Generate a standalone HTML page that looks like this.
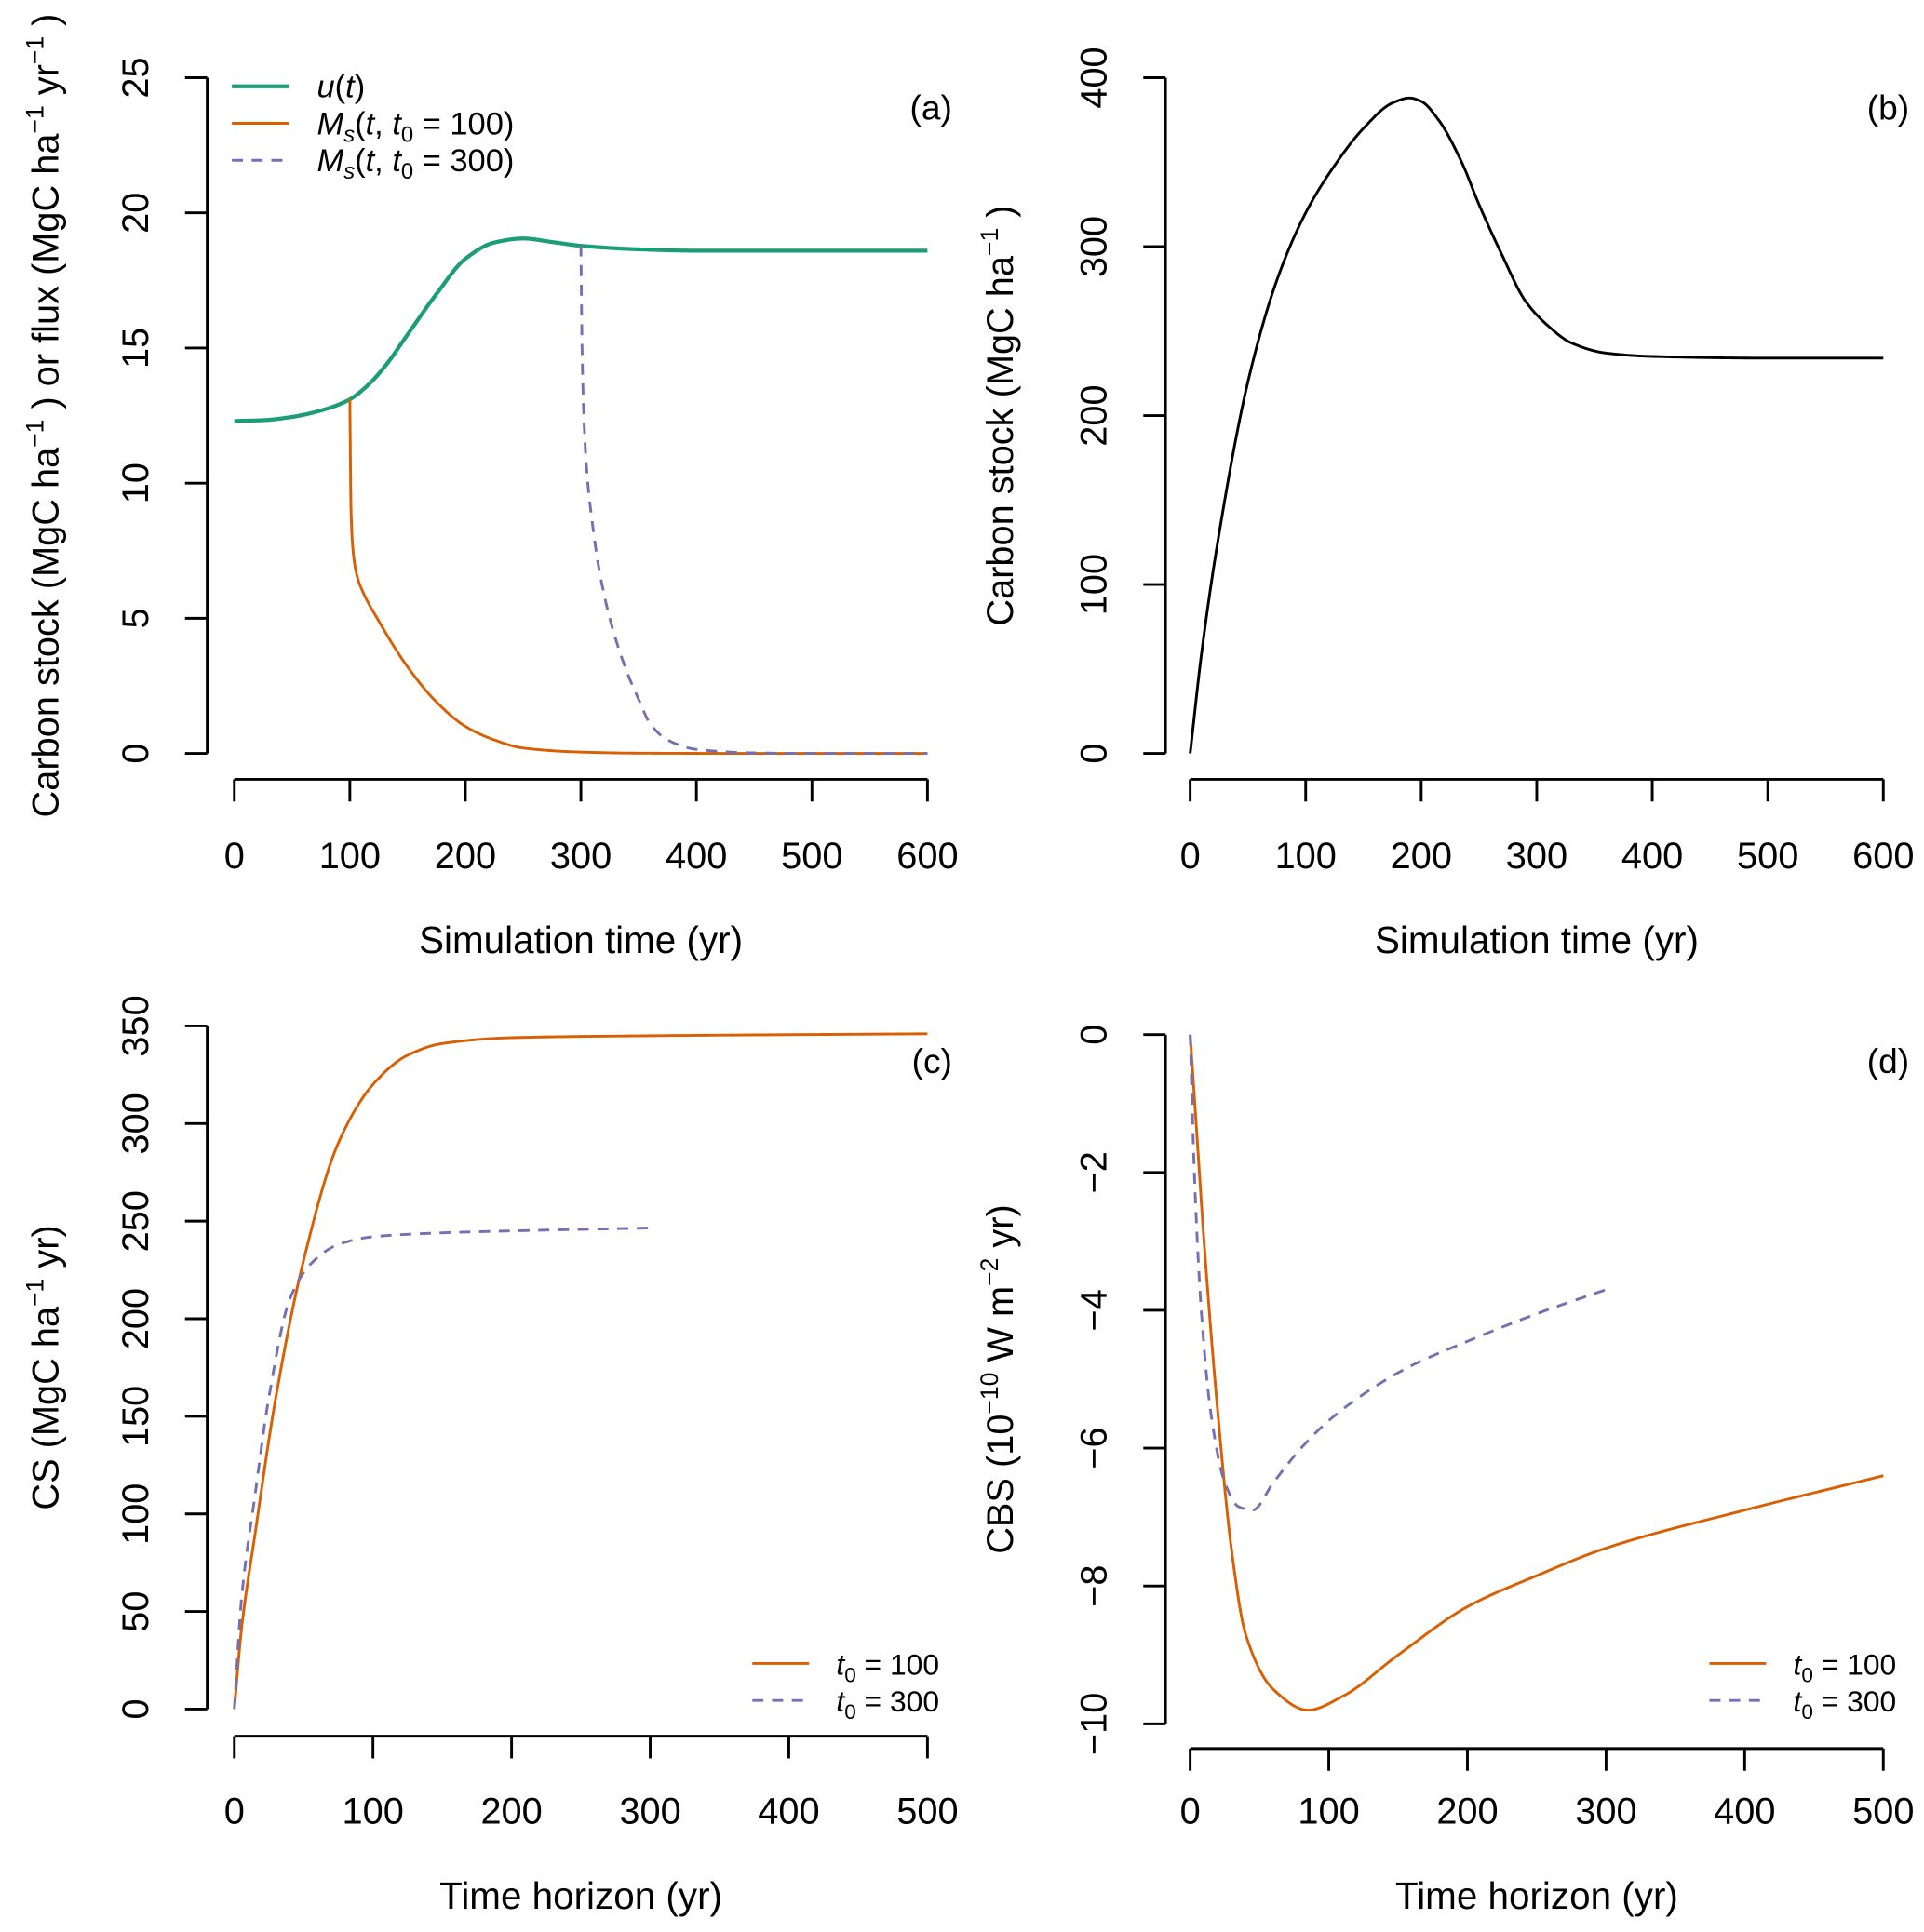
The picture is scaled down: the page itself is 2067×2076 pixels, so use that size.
<!DOCTYPE html>
<html><head><meta charset="utf-8"><style>
html,body{margin:0;padding:0;background:#fff}
svg text{font-family:"Liberation Sans",sans-serif;fill:#000}
</style></head><body>
<svg id="fig" xmlns="http://www.w3.org/2000/svg" width="2067" height="2071" viewBox="0 0 1560 1563">
<rect width="1560" height="1563" fill="#fff"/>
<g id="root"></g>
</svg>
<script>
// Panel a data
const aT_u=[0,25,50,80,100,115,130,150,175,200,225,250,275,300,350,400,500,600];
const aV_u=[12.3,12.33,12.45,12.75,13.1,13.6,14.3,15.5,17,18.3,18.9,19.05,18.92,18.78,18.65,18.6,18.6,18.6];
const aT_m100=[100,101,103,106,110,125,150,175,200,225,250,300,350,450,600];
const aV_m100=[13.1,9,7.4,6.6,6.1,4.9,3.2,1.9,1.0,0.5,0.2,0.05,0.01,0,0];
const aT_m300=[300,301,303,306,310,315,325,340,350,360,375,400,450,500,600];
const aV_m300=[18.8,15,12,10,8.5,7,5,3,2,1.1,0.5,0.15,0.02,0,0];
// Panel b data
const bT=[0,10,25,50,75,100,125,150,175,190,200,215,235,250,270,290,310,330,360,400,500,600];
const bV=[0,60,130,220,280,320,348,370,385,388,386,375,350,325,295,268,253,243,237,235,234,234];
// Panel c data
const cT_100=[0,5,15,30,50,75,100,125,150,200,300,500];
const cV_100=[0,40,90,160,230,290,320,335,341,344,345,346];
const cT_300=[0,5,15,25,40,55,75,100,150,200,300];
const cV_300=[0,55,110,160,210,228,238,242,244,245,246.5];
// Panel d data
const dT_100=[0,5,10,20,30,40,60,85,110,150,200,250,300,400,500];
const dV_100=[0,-1.5,-3,-5.5,-7.5,-8.7,-9.5,-9.8,-9.6,-9.0,-8.3,-7.85,-7.45,-6.9,-6.4];
const dT_300=[0,3,8,15,25,35,45,60,80,100,130,160,200,250,300];
const dV_300=[0,-2,-4,-5.5,-6.5,-6.85,-6.9,-6.5,-6.0,-5.6,-5.15,-4.8,-4.45,-4.05,-3.7];
const aXt=[0,100,200,300,400,500,600], aYt=[0,5,10,15,20,25];
const bYt=[0,100,200,300,400];
const cXt=[0,100,200,300,400,500], cYt=[0,50,100,150,200,250,300,350];
const dYt=[0,-2,-4,-6,-8,-10];

const NS="http://www.w3.org/2000/svg";
const root=document.getElementById('root');
function el(tag,attrs,parent){const e=document.createElementNS(NS,tag);for(const k in attrs)e.setAttribute(k,attrs[k]);(parent||root).appendChild(e);return e;}
function lin(d0,d1,p0,p1){return v=>p0+(v-d0)/(d1-d0)*(p1-p0);}
// monotone cubic interpolation in data space, sampled densely
function curve(xs,ys,X,Y){
  const n=xs.length, d=[], m=new Array(n);
  for(let i=0;i<n-1;i++)d.push((ys[i+1]-ys[i])/(xs[i+1]-xs[i]));
  m[0]=d[0];m[n-1]=d[n-2];
  for(let i=1;i<n-1;i++){
    if(d[i-1]*d[i]<=0)m[i]=0;
    else{const h0=xs[i]-xs[i-1],h1=xs[i+1]-xs[i];const w1=2*h1+h0,w2=h1+2*h0;m[i]=(w1+w2)/(w1/d[i-1]+w2/d[i]);}
  }
  let s="";
  for(let i=0;i<n-1;i++){
    const h=xs[i+1]-xs[i];const N=30;
    for(let k=(i==0?0:1);k<=N;k++){
      const t=k/N,t2=t*t,t3=t2*t;
      const y=(2*t3-3*t2+1)*ys[i]+(t3-2*t2+t)*h*m[i]+(-2*t3+3*t2)*ys[i+1]+(t3-t2)*h*m[i+1];
      const x=xs[i]+t*h;
      s+=(s?"L":"M")+X(x).toFixed(2)+","+Y(y).toFixed(2);
    }
  }
  return s;
}
function axes(g,X,Y,xt,yt,yAxisX,xAxisY,labelY,titleY,xTitle,yTitleHtml,yTitleX){
  const xa=el('g',{},g);
  
  
  el('line',{x1:X(xt[0]),x2:X(xt[xt.length-1]),y1:xAxisY,y2:xAxisY,stroke:'#000','stroke-width':2.2},xa);
  xt.forEach(v=>{
    el('line',{x1:X(v),x2:X(v),y1:xAxisY,y2:xAxisY+18,stroke:'#000','stroke-width':2.2},xa);
    const t=el('text',{x:X(v),y:labelY,'text-anchor':'middle','font-size':30},xa);
    
    
    t.textContent=v;
  });
  const xtit=el('text',{x:(X(xt[0])+X(xt[xt.length-1]))/2,y:titleY,'text-anchor':'middle','font-size':30.5},g);
  
  
  xtit.textContent=xTitle;
  const ya=el('g',{},g);
  
  
  el('line',{x1:yAxisX,x2:yAxisX,y1:Y(yt[0]),y2:Y(yt[yt.length-1]),stroke:'#000','stroke-width':2.2},ya);
  yt.forEach(v=>{
    el('line',{x1:yAxisX,x2:yAxisX-18,y1:Y(v),y2:Y(v),stroke:'#000','stroke-width':2.2},ya);
    const lx=yAxisX-58;
    const t=el('text',{x:lx,y:Y(v)+10,'text-anchor':'middle','font-size':30,transform:`rotate(-90 ${lx} ${Y(v)})`},ya);
    
    
    t.textContent=String(v).replace('-','\u2212');
  });
  const yc=(Y(yt[0])+Y(yt[yt.length-1]))/2;
  const yt2=el('text',{x:yTitleX,y:yc,'text-anchor':'middle','font-size':30,transform:`rotate(-90 ${yTitleX} ${yc})`,dy:11},g);
  
  
  yt2.innerHTML=yTitleHtml;
}
function tagText(g,x,y,s){const t=el('text',{x:x,y:y,'text-anchor':'end','font-size':28},g);
  
  
  t.textContent=s;}
const sup=s=>`<tspan dy="-12" font-size="20">${s}</tspan><tspan dy="12"> </tspan>`;

// ---- Panel a
{
const g=el('g',{});


const X=lin(0,600,190,752),Y=lin(0,25,611,63);
axes(g,X,Y,aXt,aYt,168,632,704,773,'Simulation time (yr)',
 `Carbon stock (MgC ha${sup('\u22121')}) or flux (MgC ha${sup('\u22121')}yr${sup('\u22121')})`,36);
const u=el('path',{d:curve(aT_u,aV_u,X,Y),fill:'none',stroke:'#1b9e77','stroke-width':3.2},g);


const m1=el('path',{d:curve(aT_m100,aV_m100,X,Y),fill:'none',stroke:'#d95f02','stroke-width':2.2},g);


const m3=el('path',{d:curve(aT_m300,aV_m300,X,Y),fill:'none',stroke:'#7570b3','stroke-width':2.2,'stroke-dasharray':'9,7'},g);


tagText(g,772,97,'(a)');
const lg=el('g',{},g);


el('line',{x1:188,x2:234,y1:70,y2:70,stroke:'#1b9e77','stroke-width':3.2},lg);
el('line',{x1:188,x2:234,y1:100,y2:100,stroke:'#d95f02','stroke-width':2.2},lg);
el('line',{x1:188,x2:234,y1:130,y2:130,stroke:'#7570b3','stroke-width':2.2,'stroke-dasharray':'9,7'},lg);
const l1=el('text',{x:257,y:79,'font-size':26},lg);l1.innerHTML='<tspan font-style="italic">u</tspan>(<tspan font-style="italic">t</tspan>)';
const l2=el('text',{x:257,y:109,'font-size':26},lg);l2.innerHTML='<tspan font-style="italic">M</tspan><tspan font-style="italic" font-size="18" dy="6">s</tspan><tspan dy="-6">(</tspan><tspan font-style="italic">t</tspan>, <tspan font-style="italic">t</tspan><tspan font-size="18" dy="6">0</tspan><tspan dy="-6"> = 100)</tspan>';
const l3=el('text',{x:257,y:139,'font-size':26},lg);l3.innerHTML='<tspan font-style="italic">M</tspan><tspan font-style="italic" font-size="18" dy="6">s</tspan><tspan dy="-6">(</tspan><tspan font-style="italic">t</tspan>, <tspan font-style="italic">t</tspan><tspan font-size="18" dy="6">0</tspan><tspan dy="-6"> = 300)</tspan>';
}
// ---- Panel b
{
const g=el('g',{});


const X=lin(0,600,965,1527),Y=lin(0,400,611,63);
axes(g,X,Y,aXt,bYt,945,632,704,773,'Simulation time (yr)',`Carbon stock (MgC ha${sup('\u22121')})`,810);
const p=el('path',{d:curve(bT,bV,X,Y),fill:'none',stroke:'#000','stroke-width':2.2},g);


tagText(g,1548,97,'(b)');
}
function legend2(g,x,y){
  const lg=el('g',{},g);
  
  
  el('line',{x1:x,x2:x+46,y1:y,y2:y,stroke:'#d95f02','stroke-width':2.2},lg);
  el('line',{x1:x,x2:x+46,y1:y+30,y2:y+30,stroke:'#7570b3','stroke-width':2.2,'stroke-dasharray':'9,7'},lg);
  const a=el('text',{x:x+68,y:y+9,'font-size':24},lg);a.innerHTML='<tspan font-style="italic">t</tspan><tspan font-size="17" dy="6">0</tspan><tspan dy="-6"> = 100</tspan>';
  const b=el('text',{x:x+68,y:y+39,'font-size':24},lg);b.innerHTML='<tspan font-style="italic">t</tspan><tspan font-size="17" dy="6">0</tspan><tspan dy="-6"> = 300</tspan>';
}
// ---- Panel c
{
const g=el('g',{});


const X=lin(0,500,190,752),Y=lin(0,350,1386,832);
axes(g,X,Y,cXt,cYt,168,1408,1479,1548,'Time horizon (yr)',`CS (MgC ha${sup('\u22121')}yr)`,36);
const p1=el('path',{d:curve(cT_100,cV_100,X,Y),fill:'none',stroke:'#d95f02','stroke-width':2.2},g);


const p3=el('path',{d:curve(cT_300,cV_300,X,Y),fill:'none',stroke:'#7570b3','stroke-width':2.2,'stroke-dasharray':'9,7'},g);


tagText(g,772,870,'(c)');
legend2(g,610,1349);
}
// ---- Panel d
{
const g=el('g',{});


const X=lin(0,500,965,1527),Y=lin(0,-10,839,1398);
axes(g,X,Y,cXt,dYt,945,1418,1479,1548,'Time horizon (yr)',`CBS (10${sup('\u221210')}W m${sup('\u22122')}yr)`,810);
const p1=el('path',{d:curve(dT_100,dV_100,X,Y),fill:'none',stroke:'#d95f02','stroke-width':2.2},g);


const p3=el('path',{d:curve(dT_300,dV_300,X,Y),fill:'none',stroke:'#7570b3','stroke-width':2.2,'stroke-dasharray':'9,7'},g);


tagText(g,1548,870,'(d)');
legend2(g,1386,1349);
}
</script>
</body></html>
